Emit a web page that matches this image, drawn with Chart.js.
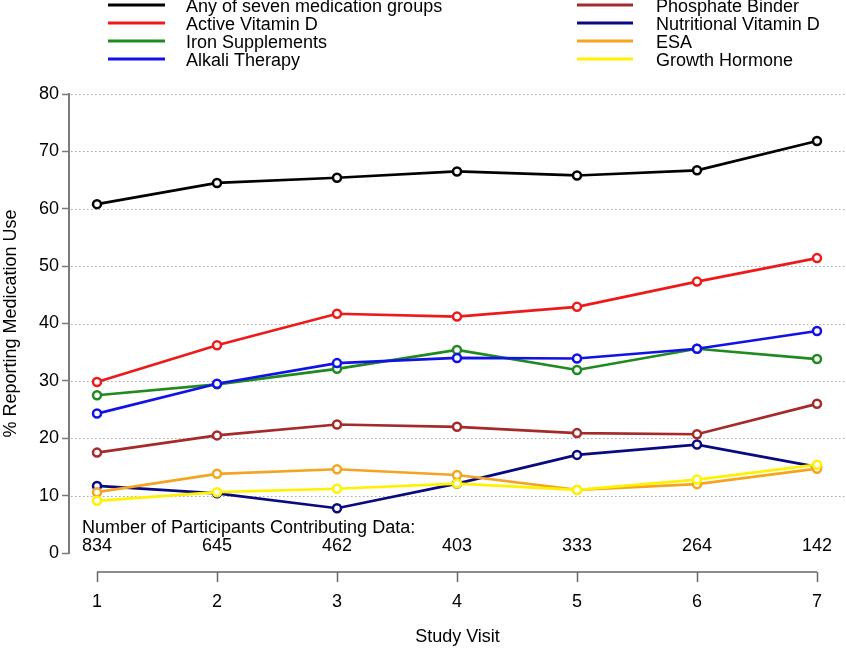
<!DOCTYPE html>
<html><head><meta charset="utf-8">
<script src="https://cdn.jsdelivr.net/npm/chart.js@4.4.1/dist/chart.umd.min.js"></script>
<style>html,body{margin:0;padding:0;background:#fff;}#wrap{width:846px;height:648px;position:relative;}</style>
</head><body><div id="wrap"><canvas id="c" width="846" height="648"></canvas></div>
<script>
// ---- data ----
const visits = [1, 2, 3, 4, 5, 6, 7];
const participants = ['834', '645', '462', '403', '333', '264', '142'];
const participantsTitle = 'Number of Participants Contributing Data:';
const yTitle = '% Reporting Medication Use';
const yTicks = [0, 10, 20, 30, 40, 50, 60, 70, 80];
const seriesNames = ['Any of seven medication groups', 'Active Vitamin D', 'Iron Supplements', 'Alkali Therapy',
  'Phosphate Binder', 'Nutritional Vitamin D', 'ESA', 'Growth Hormone'];
const anyMedication = [60.8, 64.5, 65.4, 66.5, 65.8, 66.7, 71.8];
const activeVitaminD = [29.8, 36.2, 41.7, 41.2, 42.9, 47.3, 51.4];
const ironSupplements = [27.5, 29.4, 32.1, 35.4, 31.9, 35.6, 33.8];
const alkaliTherapy = [24.3, 29.5, 33.1, 34.0, 33.9, 35.6, 38.7];
const phosphateBinder = [17.5, 20.5, 22.4, 22.0, 20.9, 20.7, 26.0];
const nutritionalVitaminD = [11.7, 10.4, 7.8, 12.1, 17.1, 18.9, 15.0];
const esa = [10.6, 13.8, 14.6, 13.6, 11.0, 12.0, 14.7];
const growthHormone = [9.1, 10.6, 11.2, 12.1, 11.0, 12.8, 15.4];
const seriesValues = [anyMedication, activeVitaminD, ironSupplements, alkaliTherapy,
  phosphateBinder, nutritionalVitaminD, esa, growthHormone];

// ---- styles ----
const seriesColors = ['#000000', '#ee1a1a', '#1f8a1f', '#1212e8', '#a52a2a', '#0a0a80', '#f5a422', '#fff200'];
const FONT = '"Liberation Sans", Arial, Helvetica, sans-serif';

const datasets = seriesValues.map((vals, i) => ({
  label: seriesNames[i],
  data: visits.map((v, j) => ({ x: v, y: vals[j] })),
  borderColor: seriesColors[i],
  backgroundColor: seriesColors[i],
  borderWidth: 2.7,
  pointRadius: 4,
  pointBorderWidth: 2.5,
  pointBackgroundColor: '#ffffff',
  pointBorderColor: seriesColors[i],
  tension: 0,
  clip: false,
  order: seriesValues.length - i
}));

const decor = {
  id: 'decor',
  beforeDatasetsDraw(chart) {
    const { ctx, chartArea, scales: { x, y } } = chart;
    ctx.save();
    ctx.strokeStyle = '#ababab';
    ctx.lineWidth = 1;
    ctx.setLineDash([1.5, 2.5]);
    yTicks.forEach(v => {
      if (v === yTicks[0]) return;
      const py = Math.round(y.getPixelForValue(v)) + 0.5;
      ctx.beginPath(); ctx.moveTo(chartArea.left + 2, py); ctx.lineTo(chart.width, py); ctx.stroke();
    });
    ctx.setLineDash([]);
    const y0 = y.getPixelForValue(yTicks[0]), y1 = y.getPixelForValue(yTicks[yTicks.length - 1]);
    ctx.strokeStyle = '#7a7a7a';
    ctx.lineWidth = 2;
    ctx.beginPath();
    ctx.moveTo(chartArea.left, y0 + 1);
    ctx.lineTo(chartArea.left, y1 - 1);
    ctx.stroke();
    ctx.strokeStyle = '#666666';
    ctx.lineWidth = 1.5;
    ctx.beginPath();
    ctx.moveTo(x.getPixelForValue(visits[0]), chartArea.bottom);
    ctx.lineTo(x.getPixelForValue(visits[visits.length - 1]), chartArea.bottom);
    ctx.stroke();
    ctx.fillStyle = '#000';
    ctx.font = '18px ' + FONT;
    ctx.textBaseline = 'middle';
    ctx.textAlign = 'left';
    ctx.fillText(participantsTitle, 82, 528);
    ctx.textAlign = 'center';
    visits.forEach((v, i) => ctx.fillText(participants[i], x.getPixelForValue(v), 546));
    // y axis title centred on the 0–80 range
    ctx.save();
    ctx.translate(11, (y0 + y1) / 2);
    ctx.rotate(-Math.PI / 2);
    ctx.textAlign = 'center';
    ctx.textBaseline = 'middle';
    ctx.fillText(yTitle, 0, 0);
    ctx.restore();
    ctx.restore();
  },
  afterDraw(chart) {
    const { ctx } = chart;
    const rows = [5, 23, 41, 59];
    const cols = [{ l0: 108, l1: 165, t: 186 }, { l0: 577, l1: 633, t: 656 }];
    ctx.save();
    ctx.font = '18px ' + FONT;
    ctx.textBaseline = 'middle';
    ctx.textAlign = 'left';
    chart.data.datasets.forEach((ds, i) => {
      const c = cols[Math.floor(i / 4)], ry = rows[i % 4];
      ctx.strokeStyle = ds.borderColor;
      ctx.lineWidth = 3;
      ctx.beginPath(); ctx.moveTo(c.l0, ry); ctx.lineTo(c.l1, ry); ctx.stroke();
      ctx.fillStyle = '#000';
      ctx.fillText(ds.label, c.t, ry + 2);
    });
    ctx.restore();
  }
};

new Chart(document.getElementById('c'), {
  type: 'line',
  data: { datasets },
  options: {
    responsive: false,
    devicePixelRatio: 1,
    animation: false,
    layout: { autoPadding: false, padding: { top: 94, right: 0, bottom: 0, left: 0 } },
    plugins: { legend: { display: false }, tooltip: { enabled: false } },
    scales: {
      x: {
        type: 'linear',
        min: 1 - 28 / 120,
        max: 7 + 29 / 120,
        afterBuildTicks: s => { s.ticks = visits.map(v => ({ value: v })); },
        afterFit: s => { s.height = 76; },
        border: { display: false },
        grid: { display: true, drawOnChartArea: false, drawTicks: true, tickLength: 10, tickColor: '#666666', tickWidth: 1.5 },
        ticks: { color: '#000', padding: 9, font: { family: FONT, size: 18 }, maxRotation: 0, autoSkip: false },
        title: { display: true, text: 'Study Visit', color: '#000', font: { family: FONT, size: 18 }, padding: { top: 0, bottom: 0 } }
      },
      y: {
        type: 'linear',
        min: -3.31,
        max: 80,
        afterBuildTicks: s => { s.ticks = yTicks.map(v => ({ value: v })); },
        afterFit: s => { s.width = 69; },
        border: { display: false },
        grid: { display: true, drawOnChartArea: false, drawTicks: true, tickLength: 7, tickColor: '#7a7a7a', tickWidth: 1.5 },
        ticks: { color: '#000', padding: 3, font: { family: FONT, size: 18 } },
        title: { display: false }
      }
    }
  },
  plugins: [decor]
});
</script></body></html>
